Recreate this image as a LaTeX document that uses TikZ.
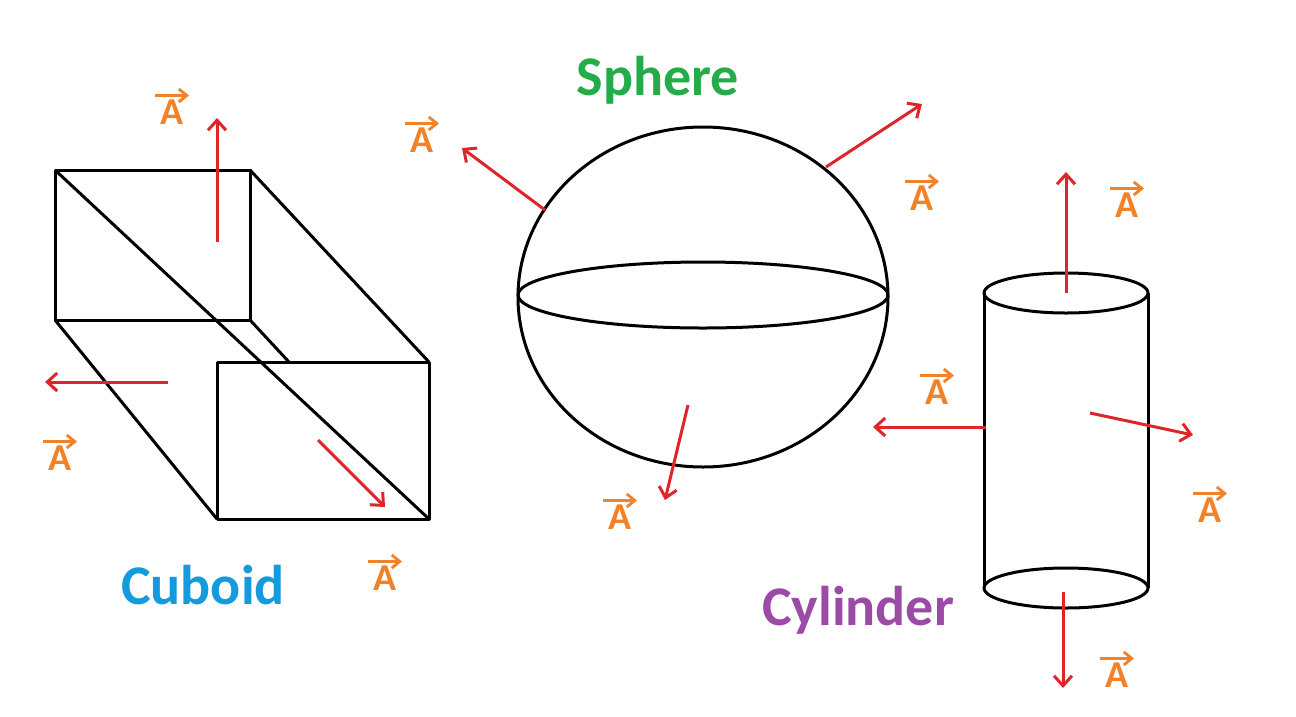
\documentclass[tikz,border=0pt]{standalone}
\usepackage{fontspec}
\setmainfont{Carlito}
\usetikzlibrary{arrows.meta}
\definecolor{rd}{RGB}{222,38,42}
\definecolor{og}{RGB}{242,130,40}
\definecolor{gr}{RGB}{36,172,72}
\definecolor{bl}{RGB}{20,155,222}
\definecolor{pu}{RGB}{155,75,165}
\newcommand\vecA[2]{\node[va] (#1) at (#2) {A};
 \draw[og,line width=2.8pt,-{Straight Barb[length=8pt,width=13pt]}] ([xshift=-17pt,yshift=4pt]#1.north) -- ([xshift=17pt,yshift=4pt]#1.north);}
\begin{document}
\begin{tikzpicture}[x=1pt,y=-1pt,
 sh/.style={line width=3pt,black,line join=round},
 ar/.style={rd,line width=3pt,-{Straight Barb[length=10pt,width=18pt]}},
 va/.style={og,font=\bfseries\fontsize{38}{38}\selectfont,inner sep=0pt},
 ttl/.style={font=\bfseries\fontsize{56}{56}\selectfont}]
\useasboundingbox (0,0) rectangle (1296,716);
% cuboid
\draw[sh] (55,170) rectangle (250,320);
\draw[sh] (217,362) rectangle (429,519);
\draw[sh] (250,170) -- (429,362);
\draw[sh] (55,320) -- (217,519);
\draw[sh] (55,170) -- (429,519);
\draw[sh] (250,320) -- (289,362);
\coordinate (c1) at (217,242); \coordinate (c1e) at (217,118);
\coordinate (c2) at (168,382); \coordinate (c2e) at (45,382);
\coordinate (c3) at (318,440); \coordinate (c3e) at (385,507);
\draw[ar] (c1) -- (c1e); \draw[ar] (c2) -- (c2e); \draw[ar] (c3) -- (c3e);
\vecA{a1}{172,112} \vecA{a2}{60,458} \vecA{a3}{385,578}
\node[ttl,bl] (cub) at (203,585) {Cuboid};
% sphere
\draw[sh] (703,297) ellipse [x radius=185, y radius=170];
\draw[sh] (703,295) ellipse [x radius=185, y radius=33];
\coordinate (s1) at (545,210); \coordinate (s1e) at (462,148);
\coordinate (s2) at (826,167); \coordinate (s2e) at (922,104);
\coordinate (s3) at (688,405); \coordinate (s3e) at (665,500);
\draw[ar] (s1) -- (s1e); \draw[ar] (s2) -- (s2e); \draw[ar] (s3) -- (s3e);
\vecA{a4}{422,140} \vecA{a5}{922,198} \vecA{a6}{620,517}
\node[ttl,gr] (sph) at (658,80) {Sphere};
% cylinder
\draw[sh] (1066,293) ellipse [x radius=82, y radius=20];
\draw[sh] (1066,588) ellipse [x radius=82, y radius=20];
\draw[sh] (984,293) -- (984,588);
\draw[sh] (1148,293) -- (1148,588);
\coordinate (y1) at (1066,293); \coordinate (y1e) at (1066,172);
\coordinate (y2) at (986,427); \coordinate (y2e) at (873,427);
\coordinate (y3) at (1090,413); \coordinate (y3e) at (1193,435);
\coordinate (y4) at (1063,592); \coordinate (y4e) at (1063,688);
\draw[ar] (y1) -- (y1e); \draw[ar] (y2) -- (y2e); \draw[ar] (y3) -- (y3e); \draw[ar] (y4) -- (y4e);
\vecA{a7}{1127,205} \vecA{a8}{937,392} \vecA{a9}{1210,510} \vecA{a10}{1117,675}
\node[ttl,pu] (cyl) at (858,610) {Cylinder};
\end{tikzpicture}
\end{document}
